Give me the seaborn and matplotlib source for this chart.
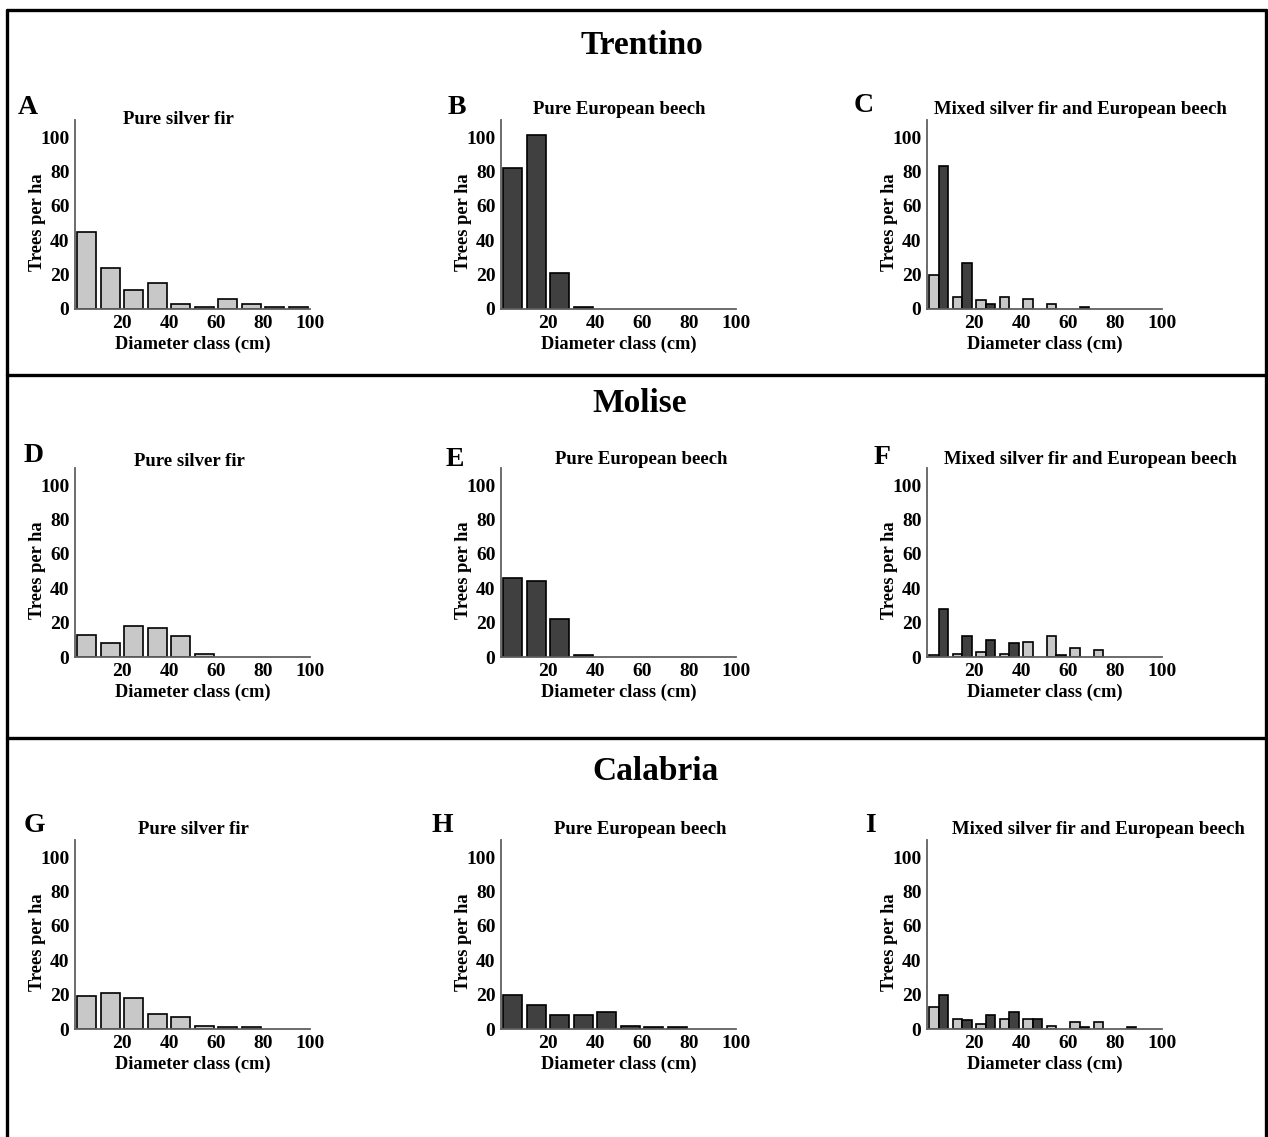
import numpy as np
import pandas as pd
import seaborn as sns
import matplotlib.pyplot as plt
from matplotlib.lines import Line2D
from matplotlib.ticker import MultipleLocator

# diameter classes (class midpoints, cm)
diam_classes = [5, 15, 25, 35, 45, 55, 65, 75, 85, 95]

# Trentino
trentino_fir = [45, 24, 11, 15, 3, 1, 6, 3, 1, 1]
trentino_beech = [82, 101, 21, 1, 0, 0, 0, 0, 0, 0]
trentino_mixed_fir = [20, 7, 5, 7, 6, 3, 0, 0, 0, 0]
trentino_mixed_beech = [83, 27, 3, 0, 0, 0, 1, 0, 0, 0]

# Molise
molise_fir = [13, 8, 18, 17, 12, 2, 0, 0, 0, 0]
molise_beech = [46, 44, 22, 1, 0, 0, 0, 0, 0, 0]
molise_mixed_fir = [1, 2, 3, 2, 9, 12, 5, 4, 0, 0]
molise_mixed_beech = [28, 12, 10, 8, 0, 1, 0, 0, 0, 0]

# Calabria
calabria_fir = [19, 21, 18, 9, 7, 2, 1, 1, 0, 0]
calabria_beech = [20, 14, 8, 8, 10, 2, 1, 1, 0, 0]
calabria_mixed_fir = [13, 6, 3, 6, 6, 2, 4, 4, 0, 0]
calabria_mixed_beech = [20, 5, 8, 10, 6, 0, 1, 0, 1, 0]

regions = ["Trentino", "Molise", "Calabria"]
subtitles = ["Pure silver fir", "Pure European beech", "Mixed silver fir and European beech"]
letters = ["A", "B", "C", "D", "E", "F", "G", "H", "I"]

FIR_COLOR = "#c8c8c8"
BEECH_COLOR = "#404040"

sns.set_style("white")
plt.rcParams["font.family"] = ["Liberation Serif", "DejaVu Serif"]
plt.rcParams["font.weight"] = "bold"
plt.rcParams["text.color"] = "black"
plt.rcParams["axes.labelcolor"] = "black"
plt.rcParams["xtick.color"] = "black"
plt.rcParams["ytick.color"] = "black"

W, H = 1268, 1137
fig = plt.figure(figsize=(W / 100, H / 100), dpi=100)


def fx(px):
    return px / W


def fy(py):
    return 1 - py / H


def style_axis(ax):
    sns.despine(ax=ax)
    for s in ["left", "bottom"]:
        ax.spines[s].set_color("#606060")
        ax.spines[s].set_linewidth(1.3)
    ax.set_xlim(0, 100)
    ax.set_ylim(0, 110)
    ax.set_xticks([20, 40, 60, 80, 100])
    ax.xaxis.set_minor_locator(MultipleLocator(10))
    ax.set_yticks([0, 20, 40, 60, 80, 100])
    ax.yaxis.set_minor_locator(MultipleLocator(10))
    ax.tick_params(axis="both", which="major", labelsize=14, length=3, width=1,
                   color="#606060", labelcolor="black")
    ax.tick_params(axis="both", which="minor", length=2, width=1, color="#606060")
    ax.tick_params(axis="x", which="both", direction="in", pad=4)
    ax.tick_params(axis="y", which="major", pad=1)
    for lab in ax.get_xticklabels() + ax.get_yticklabels():
        lab.set_fontweight("bold")
    ax.set_xlabel("Diameter class (cm)", fontsize=13.2, fontweight="bold", labelpad=3)
    ax.set_ylabel("Trees per ha", fontsize=13.2, fontweight="bold")
    ax.yaxis.set_label_coords(-0.125, 0.46)


def pure_panel(ax, values, color):
    df = pd.DataFrame({"diam": diam_classes, "trees": values})
    df = df[df.trees > 0]
    sns.barplot(data=df, x="diam", y="trees", color=color, native_scale=True,
                width=0.8, saturation=1, edgecolor="black", linewidth=1.2, ax=ax)


def mixed_panel(ax, fir, beech):
    df = pd.DataFrame({
        "diam": diam_classes * 2,
        "trees": fir + beech,
        "species": ["fir"] * len(fir) + ["beech"] * len(beech),
    })
    df = df[df.trees > 0]
    sns.barplot(data=df, x="diam", y="trees", hue="species", hue_order=["fir", "beech"],
                palette={"fir": FIR_COLOR, "beech": BEECH_COLOR}, native_scale=True,
                width=0.8, saturation=1, edgecolor="black", linewidth=1.2,
                legend=False, ax=ax)


panel_data = [
    (trentino_fir, trentino_beech, trentino_mixed_fir, trentino_mixed_beech),
    (molise_fir, molise_beech, molise_mixed_fir, molise_mixed_beech),
    (calabria_fir, calabria_beech, calabria_mixed_fir, calabria_mixed_beech),
]

# layout in pixels
col_left = [75, 501, 927]
row_bottom = [309, 657, 1029]
ax_w, ax_h = 235, 189
subtitle_pos = [
    [(178, 120), (619, 109), (1080, 109)],
    [(189, 462), (641, 459), (1090, 459)],
    [(193, 830), (640, 830), (1098, 830)],
]
letter_pos = [(28, 108), (457, 107), (864, 106),
              (34, 455), (455, 459), (882, 458),
              (34, 826), (442, 826), (870, 826)]
region_pos = [(642, 45), (640, 404), (656, 772)]

for r in range(3):
    fir, beech, mfir, mbeech = panel_data[r]
    for c in range(3):
        ax = fig.add_axes([fx(col_left[c]), fy(row_bottom[r]), fx(ax_w), ax_h / H])
        if c == 0:
            pure_panel(ax, fir, FIR_COLOR)
        elif c == 1:
            pure_panel(ax, beech, BEECH_COLOR)
        else:
            mixed_panel(ax, mfir, mbeech)
        style_axis(ax)
        sx, sy = subtitle_pos[r][c]
        fig.text(fx(sx), fy(sy), subtitles[c], ha="center", va="center",
                 fontsize=13.5, fontweight="bold")
        lx, ly = letter_pos[r * 3 + c]
        fig.text(fx(lx), fy(ly), letters[r * 3 + c], ha="center", va="center",
                 fontsize=20, fontweight="bold")
    gx, gy = region_pos[r]
    fig.text(fx(gx), fy(gy), regions[r], ha="center", va="center",
             fontsize=24, fontweight="bold")

# frame and separators
lw = 2.4
fig.add_artist(Line2D([fx(7), fx(1266)], [fy(10), fy(10)], color="black", lw=lw))
fig.add_artist(Line2D([fx(7), fx(7)], [fy(10), 0], color="black", lw=lw))
fig.add_artist(Line2D([fx(1266), fx(1266)], [fy(10), 0], color="black", lw=lw))
fig.add_artist(Line2D([fx(7), fx(1266)], [fy(375), fy(375)], color="black", lw=lw))
fig.add_artist(Line2D([fx(7), fx(1266)], [fy(738), fy(738)], color="black", lw=lw))

fig.savefig("out.png", dpi=100)
